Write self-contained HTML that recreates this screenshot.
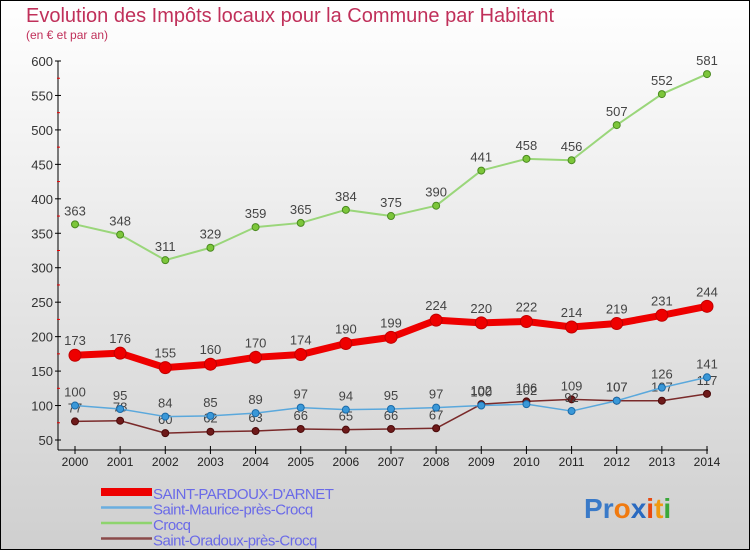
<!DOCTYPE html>
<html><head><meta charset="utf-8"><style>
body{margin:0}
#c{width:750px;height:550px;position:relative;overflow:hidden;font-family:"Liberation Sans","DejaVu Sans",sans-serif}
</style></head><body>
<div id="c">
<svg id="s" width="750" height="550" xmlns="http://www.w3.org/2000/svg">
<defs><linearGradient id="bg" x1="0" y1="0" x2="0" y2="1"><stop offset="0" stop-color="#ffffff"/><stop offset="1" stop-color="#cfcfcf"/></linearGradient></defs>
<rect x="0.5" y="0.5" width="749" height="549" fill="url(#bg)" stroke="#000"/>
<text x="26" y="22" font-size="20" fill="#c0305a">Evolution des Impôts locaux pour la Commune par Habitant</text>
<text x="26" y="39" font-size="12" fill="#c0305a">(en € et par an)</text>
<g id="g"></g>
</svg>
</div>
<script>
const years=[2000,2001,2002,2003,2004,2005,2006,2007,2008,2009,2010,2011,2012,2013,2014];
const pardoux=[173,176,155,160,170,174,190,199,224,220,222,214,219,231,244];
const maurice=[100,95,84,85,89,97,94,95,97,100,102,92,107,126,141];
const crocq=[363,348,311,329,359,365,384,375,390,441,458,456,507,552,581];
const oradoux=[77,78,60,62,63,66,65,66,67,102,106,109,107,107,117];
const yTicks=[50,100,150,200,250,300,350,400,450,500,550,600];
const seriesNames=["SAINT-PARDOUX-D'ARNET","Saint-Maurice-près-Crocq","Crocq","Saint-Oradoux-près-Crocq"];
const NS="http://www.w3.org/2000/svg";
const g=document.getElementById('g');
const X=i=>75+i*(707-75)/(years.length-1);
const Y=v=>440-(v-50)*(440-61)/550;
function mk(t,a){const e=document.createElementNS(NS,t);for(const k in a)e.setAttribute(k,a[k]);g.appendChild(e);return e;}
let e=mk('line',{x1:58,y1:Y(600),x2:58,y2:450,stroke:'#000'});


e=mk('line',{x1:58,y1:450,x2:X(14)+1,y2:450,stroke:'#000'});


yTicks.forEach(v=>{
 let t=mk('line',{x1:55,y1:Y(v),x2:61,y2:Y(v),stroke:'#000'});
 
 
 if(v<600){let m=mk('line',{x1:57,y1:Y(v+25),x2:60,y2:Y(v+25),stroke:'#e00'});
 
 }
 let l=mk('text',{x:53,y:Y(v)+5,'font-size':13,'text-anchor':'end',fill:'#333'});l.textContent=v;
 
 
});
years.forEach((yr,i)=>{
 let t=mk('line',{x1:X(i),y1:446,x2:X(i),y2:454,stroke:'#000'});
 
 
 let l=mk('text',{x:X(i),y:466,'font-size':12,'text-anchor':'middle',fill:'#222'});l.textContent=yr;
 
 
});
function series(data,color,w,r,dot,dotStroke,name,labOff){
 let p=mk('polyline',{points:data.map((v,i)=>X(i)+','+Y(v)).join(' '),fill:'none',stroke:color,'stroke-width':w,'stroke-linejoin':'round'});
 
 
 data.forEach((v,i)=>{
  let c=mk('circle',{cx:X(i),cy:Y(v),r:r,fill:dot,stroke:dotStroke,'stroke-width':1});
  
  
  let l=mk('text',{x:X(i),y:Y(v)+labOff,'font-size':13,'text-anchor':'middle',fill:'#444'});l.textContent=v;
  
  
 });
}
series(crocq,'#9ad67a',2,3.5,'#7cc63a','#4a8a20','crocq',-9);
series(oradoux,'#7a2a2a',1.5,3.5,'#6e1a1a','#4a0a0a','oradoux',-9);
series(maurice,'#5aa8dc',1.5,3.5,'#3a98d8','#1a6aa8','maurice',-9);
series(pardoux,'#ee0000',7,6,'#ee0000','#c00000','pardoux',-10);
const lg=[['#ee0000',8],['#6aaee0',2.5],['#8ed46e',2.5],['#8a4a4a',2.5]];
seriesNames.forEach((n,i)=>{
 const y=492+i*15.5;
 let ln=mk('line',{x1:101,y1:y,x2:152,y2:y,stroke:lg[i][0],'stroke-width':lg[i][1]});
 
 
 let t=mk('text',{x:153,y:y+7,'font-size':15,fill:'#6a6ae8','letter-spacing':'-0.5'});t.textContent=n;
 
 
});
const letters=[['P','#3a7ac8'],['r','#3a7ac8'],['o','#f07a10'],['x','#2a6ac0'],['i','#e84a10'],['t','#f09a10'],['i','#3aa83a']];
const logo=mk('text',{x:584,y:518,'font-size':28,'font-weight':'bold'});


letters.forEach(([ch,col])=>{const ts=document.createElementNS(NS,'tspan');ts.setAttribute('fill',col);ts.textContent=ch;logo.appendChild(ts);});
</script>
</body></html>
